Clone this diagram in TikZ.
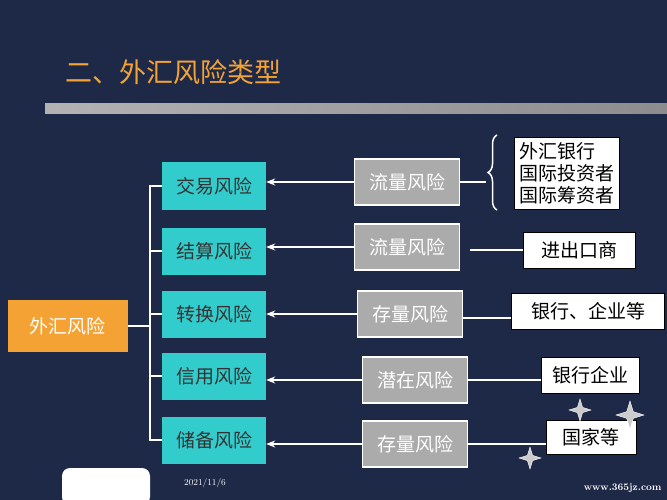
\documentclass[tikz,border=0pt]{standalone}
\usepackage{fontspec}
\newfontfamily\cjk{Noto Sans CJK SC}
\usetikzlibrary{arrows.meta,decorations.pathreplacing,shapes.geometric}
\definecolor{bg}{HTML}{1E2948}
\definecolor{org}{HTML}{F4A233}
\definecolor{cy}{HTML}{33CCCC}
\definecolor{gr}{HTML}{ABABAB}
\tikzset{
 cbox/.style={draw=none,fill=cy,minimum width=104,minimum height=47,font=\cjk\fontsize{19}{22}\selectfont,text=black!80},
 gbox/.style={draw=white,line width=1.2pt,fill=gr,minimum width=105,minimum height=46,font=\cjk\fontsize{19}{22}\selectfont,text=white},
 wbox/.style={draw=black,fill=white,font=\cjk\fontsize{19}{22}\selectfont,text=black,inner sep=4pt},
 arr/.style={draw=white,line width=1.2pt,-{Stealth[length=9pt,width=7pt]}},
 ln/.style={draw=white,line width=1.5pt}
}
\begin{document}
\begin{tikzpicture}[x=1pt,y=-1pt]
\fill[bg] (0,0) rectangle (667,500);
\useasboundingbox (0,0) rectangle (667,500);
\node[anchor=west,text=org,font=\cjk\fontsize{27}{30}\selectfont] (title) at (62,72) {二、外汇风险类型};
\shade[left color=gray!60,right color=gray!90] (45,104) rectangle (667,114);
\node[fill=org,minimum width=120,minimum height=52,font=\cjk\fontsize{19}{22}\selectfont,text=white] (fx) at (68,326) {外汇风险};
\node[cbox] (c1) at (214,186) {交易风险};
\node[cbox] (c2) at (214,251) {结算风险};
\node[cbox] (c3) at (214,314) {转换风险};
\node[cbox] (c4) at (214,376) {信用风险};
\node[cbox] (c5) at (214,440) {储备风险};
\node[gbox] (g1) at (407,182) {流量风险};
\node[gbox] (g2) at (407,247) {流量风险};
\node[gbox] (g3) at (410,314) {存量风险};
\node[gbox] (g4) at (415,380) {潜在风险};
\node[gbox] (g5) at (415,444) {存量风险};
\foreach \i in {1,...,5} \draw[arr] (g\i.west) -- (c\i.east |- g\i.west);
\coordinate (bt) at (150,186);
\coordinate (bb) at (150,440);
\draw[ln] (fx.east) -- (150,326);
\draw[ln] (c1.west) -- (bt) -- (bb) -- (c5.west);
\foreach \i in {2,3,4} \draw[ln] (c\i.west) -- (150,0 |- c\i.west);
\node[wbox,align=left,inner sep=5pt] (w1) at (567,173) {外汇银行\\国际投资者\\国际筹资者};
\node[wbox,minimum width=112,minimum height=36] (w2) at (579,250) {进出口商};
\node[wbox,minimum width=153,minimum height=36] (w3) at (588,311) {银行、企业等};
\node[wbox,minimum width=98,minimum height=36] (w4) at (590,375) {银行企业};
\node[wbox,minimum width=90,minimum height=34] (w5) at (591,437) {国家等};
\draw[ln,decorate,decoration={brace,amplitude=9pt}] (497,210) -- (497,135);
\draw[ln] (g1.east) -- (486,182);
\draw[ln] (g2.east)+(10,3) -- (w2.west |- 0,250);
\draw[ln] (g3.east)+(0,4) -- (w3.west |- 0,318);
\draw[ln] (g4.east) -- (w4.west |- 0,380);
\draw[ln] (g5.east) -- (w5.west |- 0,444);
\fill[white,rounded corners=8pt] (62,468) rectangle (150,505);
\node[text=white,font=\fontsize{9}{10}\selectfont] (date) at (205,483) {2021/11/6};
\foreach \p/\s in {(580,410)/11,(630,415)/14,(530,458)/11}
 \node[star,star points=4,star point ratio=3,fill=gray!40,draw=white,minimum size=\s pt*2,inner sep=0] at \p {};
\node[anchor=east,text=white,font=\fontsize{10}{11}\selectfont\bfseries] (wm) at (665,488) {www.365jz.com};
\end{tikzpicture}
\end{document}
